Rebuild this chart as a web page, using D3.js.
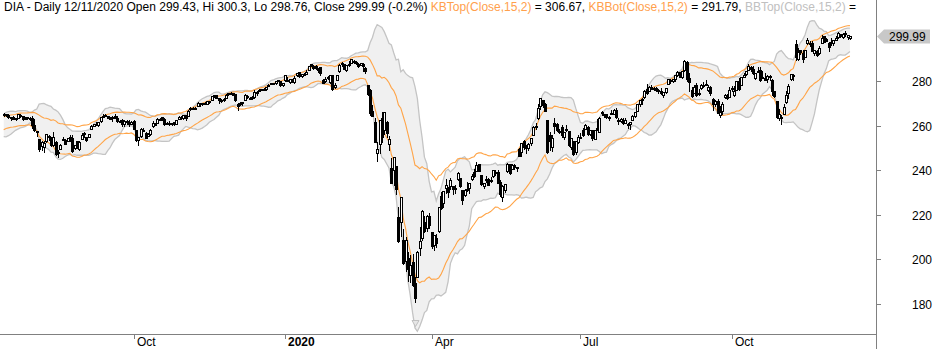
<!DOCTYPE html>
<html><head><meta charset="utf-8">
<script src="https://cdn.jsdelivr.net/npm/d3@7"></script>
<style>
body{margin:0;background:#fff}
svg{display:block}
text{font-family:"Liberation Sans",Arial,sans-serif;font-size:12px}
</style>
</head><body>
<svg id="chart" width="936" height="349"></svg>
<script>
// ---------------- DATA (DIA daily, adjusted) ----------------
const dates = [
"2019-06-24","2019-06-25","2019-06-26","2019-06-27","2019-06-28","2019-07-01","2019-07-02","2019-07-03","2019-07-05","2019-07-08","2019-07-09","2019-07-10","2019-07-11","2019-07-12",
"2019-07-15","2019-07-16","2019-07-17","2019-07-18","2019-07-19","2019-07-22","2019-07-23","2019-07-24","2019-07-25","2019-07-26","2019-07-29","2019-07-30","2019-07-31",
"2019-08-01","2019-08-02","2019-08-05","2019-08-06","2019-08-07","2019-08-08","2019-08-09","2019-08-12","2019-08-13","2019-08-14","2019-08-15","2019-08-16","2019-08-19","2019-08-20","2019-08-21","2019-08-22","2019-08-23","2019-08-26","2019-08-27","2019-08-28","2019-08-29","2019-08-30",
"2019-09-03","2019-09-04","2019-09-05","2019-09-06","2019-09-09","2019-09-10","2019-09-11","2019-09-12","2019-09-13","2019-09-16","2019-09-17","2019-09-18","2019-09-19","2019-09-20","2019-09-23","2019-09-24","2019-09-25","2019-09-26","2019-09-27","2019-09-30",
"2019-10-01","2019-10-02","2019-10-03","2019-10-04","2019-10-07","2019-10-08","2019-10-09","2019-10-10","2019-10-11","2019-10-14","2019-10-15","2019-10-16","2019-10-17","2019-10-18","2019-10-21","2019-10-22","2019-10-23","2019-10-24","2019-10-25","2019-10-28","2019-10-29","2019-10-30","2019-10-31",
"2019-11-01","2019-11-04","2019-11-05","2019-11-06","2019-11-07","2019-11-08","2019-11-11","2019-11-12","2019-11-13","2019-11-14","2019-11-15","2019-11-18","2019-11-19","2019-11-20","2019-11-21","2019-11-22","2019-11-25","2019-11-26","2019-11-27","2019-11-29",
"2019-12-02","2019-12-03","2019-12-04","2019-12-05","2019-12-06","2019-12-09","2019-12-10","2019-12-11","2019-12-12","2019-12-13","2019-12-16","2019-12-17","2019-12-18","2019-12-19","2019-12-20","2019-12-23","2019-12-24","2019-12-26","2019-12-27","2019-12-30","2019-12-31",
"2020-01-02","2020-01-03","2020-01-06","2020-01-07","2020-01-08","2020-01-09","2020-01-10","2020-01-13","2020-01-14","2020-01-15","2020-01-16","2020-01-17","2020-01-21","2020-01-22","2020-01-23","2020-01-24","2020-01-27","2020-01-28","2020-01-29","2020-01-30","2020-01-31",
"2020-02-03","2020-02-04","2020-02-05","2020-02-06","2020-02-07","2020-02-10","2020-02-11","2020-02-12","2020-02-13","2020-02-14","2020-02-18","2020-02-19","2020-02-20","2020-02-21","2020-02-24","2020-02-25","2020-02-26","2020-02-27","2020-02-28",
"2020-03-02","2020-03-03","2020-03-04","2020-03-05","2020-03-06","2020-03-09","2020-03-10","2020-03-11","2020-03-12","2020-03-13","2020-03-16","2020-03-17","2020-03-18","2020-03-19","2020-03-20","2020-03-23","2020-03-24","2020-03-25","2020-03-26","2020-03-27","2020-03-30","2020-03-31",
"2020-04-01","2020-04-02","2020-04-03","2020-04-06","2020-04-07","2020-04-08","2020-04-09","2020-04-13","2020-04-14","2020-04-15","2020-04-16","2020-04-17","2020-04-20","2020-04-21","2020-04-22","2020-04-23","2020-04-24","2020-04-27","2020-04-28","2020-04-29","2020-04-30",
"2020-05-01","2020-05-04","2020-05-05","2020-05-06","2020-05-07","2020-05-08","2020-05-11","2020-05-12","2020-05-13","2020-05-14","2020-05-15","2020-05-18","2020-05-19","2020-05-20","2020-05-21","2020-05-22","2020-05-26","2020-05-27","2020-05-28","2020-05-29",
"2020-06-01","2020-06-02","2020-06-03","2020-06-04","2020-06-05","2020-06-08","2020-06-09","2020-06-10","2020-06-11","2020-06-12","2020-06-15","2020-06-16","2020-06-17","2020-06-18","2020-06-19","2020-06-22","2020-06-23","2020-06-24","2020-06-25","2020-06-26","2020-06-29","2020-06-30",
"2020-07-01","2020-07-02","2020-07-06","2020-07-07","2020-07-08","2020-07-09","2020-07-10","2020-07-13","2020-07-14","2020-07-15","2020-07-16","2020-07-17","2020-07-20","2020-07-21","2020-07-22","2020-07-23","2020-07-24","2020-07-27","2020-07-28","2020-07-29","2020-07-30","2020-07-31",
"2020-08-03","2020-08-04","2020-08-05","2020-08-06","2020-08-07","2020-08-10","2020-08-11","2020-08-12","2020-08-13","2020-08-14","2020-08-17","2020-08-18","2020-08-19","2020-08-20","2020-08-21","2020-08-24","2020-08-25","2020-08-26","2020-08-27","2020-08-28","2020-08-31",
"2020-09-01","2020-09-02","2020-09-03","2020-09-04","2020-09-08","2020-09-09","2020-09-10","2020-09-11","2020-09-14","2020-09-15","2020-09-16","2020-09-17","2020-09-18","2020-09-21","2020-09-22","2020-09-23","2020-09-24","2020-09-25","2020-09-28","2020-09-29","2020-09-30",
"2020-10-01","2020-10-02","2020-10-05","2020-10-06","2020-10-07","2020-10-08","2020-10-09","2020-10-12","2020-10-13","2020-10-14","2020-10-15","2020-10-16","2020-10-19","2020-10-20","2020-10-21","2020-10-22","2020-10-23","2020-10-26","2020-10-27","2020-10-28","2020-10-29","2020-10-30",
"2020-11-02","2020-11-03","2020-11-04","2020-11-05","2020-11-06","2020-11-09","2020-11-10","2020-11-11","2020-11-12","2020-11-13","2020-11-16","2020-11-17","2020-11-18","2020-11-19","2020-11-20","2020-11-23","2020-11-24","2020-11-25","2020-11-27","2020-11-30",
"2020-12-01","2020-12-02","2020-12-03","2020-12-04","2020-12-07","2020-12-08","2020-12-09","2020-12-10","2020-12-11"
];
const open = [
259.3,259.0,257.6,257.3,257.4,259.9,259.0,260.0,260.6,260.3,259.0,260.1,260.9,262.9,
264.9,265.0,264.9,263.4,264.0,263.0,263.6,264.7,264.3,263.1,263.4,262.9,263.6,
260.3,257.5,254.0,251.0,250.6,253.3,255.4,254.6,251.3,252.6,247.5,249.6,254.2,253.4,253.3,254.5,254.6,250.1,252.9,249.6,254.2,256.5,
254.9,255.0,258.6,259.9,260.7,260.4,261.9,264.5,264.6,264.2,263.2,263.4,264.1,263.6,261.6,262.6,260.6,262.2,261.7,260.9,
262.0,257.9,253.6,255.2,258.2,256.8,255.5,256.4,259.7,260.7,261.2,263.0,263.7,263.0,261.0,261.3,260.6,261.5,260.9,263.0,263.7,263.6,264.7,
264.2,267.4,268.0,267.9,268.7,269.7,269.6,270.2,269.8,270.9,271.7,273.3,273.8,272.3,271.6,271.4,272.6,274.0,274.7,274.4,
274.1,269.9,269.7,270.2,271.7,273.4,272.6,272.6,272.8,275.2,275.9,276.2,276.5,276.2,278.0,278.8,279.0,278.9,280.3,280.0,278.0,
280.3,280.5,279.5,280.6,279.5,282.6,283.9,282.4,282.8,283.3,285.0,287.2,286.6,286.6,285.3,286.1,280.6,279.9,281.7,279.6,282.5,
277.1,280.5,284.4,287.5,287.4,284.9,287.8,288.0,288.9,288.7,287.8,287.2,287.6,285.9,278.3,275.8,266.5,261.8,247.6,
251.6,263.6,258.0,261.8,251.6,241.0,240.3,241.7,219.0,216.8,208.7,199.2,200.7,193.2,198.7,189.6,192.2,205.0,209.8,216.7,214.2,219.3,
212.1,206.3,209.8,212.7,228.3,225.3,232.0,232.4,232.7,232.8,232.0,236.0,236.4,231.1,228.9,231.6,232.0,236.0,239.2,239.8,242.7,
237.7,232.9,236.0,236.0,235.0,237.2,239.0,239.3,234.5,228.0,231.3,239.6,242.6,240.6,242.3,240.9,249.7,248.0,252.9,250.0,
249.9,252.1,256.0,259.4,263.2,268.7,271.5,269.7,262.4,255.6,250.2,261.3,260.9,257.4,259.4,254.8,258.2,257.5,250.6,253.2,248.0,252.6,
255.0,257.9,258.6,259.4,256.4,258.0,254.1,258.9,257.1,266.0,265.2,265.2,263.8,265.4,265.4,267.1,262.6,262.1,262.6,261.2,260.9,260.9,
262.4,264.3,266.7,269.6,271.4,272.8,276.4,275.6,277.5,276.3,277.0,276.1,275.6,273.8,274.9,278.8,280.6,280.1,281.0,282.9,284.0,
281.6,285.0,288.7,281.3,276.0,274.6,278.2,274.4,276.8,278.2,278.6,276.0,277.2,272.0,269.9,271.2,264.7,266.4,272.7,273.8,273.0,
276.9,273.6,276.0,280.2,278.3,282.0,283.1,285.0,286.5,285.6,281.4,284.3,285.1,281.4,281.5,280.7,282.3,280.5,275.3,270.9,263.6,264.0,
265.4,270.4,274.5,281.0,282.7,296.8,289.7,293.8,292.7,290.8,297.2,297.1,297.0,292.5,293.4,292.5,297.1,300.0,299.0,297.2,
296.9,296.9,298.6,299.6,301.2,299.7,301.5,299.8,299.43
];
const high = [
259.6,259.2,258.2,257.8,258.0,260.2,259.7,261.4,261.0,260.4,259.7,261.1,262.7,265.0,
265.5,265.4,265.0,263.9,264.3,263.6,265.1,265.0,264.4,263.8,263.9,263.8,264.3,
262.9,257.8,254.2,252.9,252.9,256.2,255.6,254.8,257.3,252.9,248.9,251.8,254.9,253.8,254.5,255.6,255.6,251.4,253.0,252.9,256.5,257.0,
255.1,256.2,260.2,260.8,261.7,261.7,263.9,265.3,265.2,264.5,263.7,264.1,265.0,264.1,262.4,262.9,262.4,262.3,262.6,261.9,
262.5,258.0,255.0,258.7,259.1,257.3,256.9,258.5,262.2,261.0,263.6,263.2,263.9,263.2,261.5,261.9,261.3,261.6,262.7,264.1,264.1,264.9,264.8,
266.8,268.2,268.5,268.3,270.6,270.1,270.2,270.8,271.1,271.1,273.3,273.8,273.9,272.5,271.8,272.3,274.0,274.5,275.1,274.5,
274.2,270.1,270.4,270.6,274.1,273.7,273.0,273.1,275.8,275.6,276.6,276.6,276.7,277.4,278.5,279.2,279.1,279.8,280.6,280.1,279.1,
282.6,281.6,281.0,280.9,282.4,283.6,284.1,283.0,283.8,284.8,286.9,287.6,287.1,287.3,285.9,286.4,281.0,281.6,282.4,282.7,282.8,
279.3,282.8,287.4,288.3,287.5,287.2,289.1,290.0,289.6,289.0,288.1,288.2,288.0,286.1,278.4,276.2,269.2,263.6,252.7,
262.6,266.3,266.3,262.0,255.5,245.4,246.0,242.0,223.3,228.0,213.7,210.2,203.2,202.0,202.6,192.2,203.7,214.5,222.0,219.5,219.9,221.0,
212.3,211.1,211.3,223.5,230.1,230.8,235.9,232.5,236.5,233.0,233.2,239.3,236.6,231.3,231.7,234.8,234.2,238.2,240.6,243.9,243.0,
237.8,234.4,237.4,236.6,236.8,240.2,240.0,239.9,235.4,233.2,233.8,243.4,243.0,242.6,242.7,241.6,249.9,252.3,253.5,251.3,
252.0,254.3,259.9,261.1,269.8,272.4,271.6,270.2,262.7,257.0,255.9,263.4,261.0,258.6,260.4,257.3,260.1,257.8,254.4,253.3,253.0,256.0,
256.6,259.0,260.5,259.8,258.1,258.1,258.1,262.9,263.7,266.7,265.3,265.3,264.4,266.8,267.4,267.9,263.5,263.4,263.2,263.2,261.0,261.7,
264.9,266.1,269.9,271.6,272.4,275.8,278.6,277.7,278.4,277.1,277.2,276.2,276.9,275.1,276.9,280.9,280.7,281.0,282.9,284.3,284.1,
284.7,289.3,288.9,283.7,277.1,278.2,279.3,276.5,278.8,279.4,280.6,278.1,277.9,272.2,271.3,271.8,268.7,270.5,274.3,274.1,277.3,
277.6,277.9,280.1,281.5,281.7,283.4,284.5,287.8,286.7,286.8,283.7,286.4,286.5,284.3,283.4,282.5,282.6,280.7,275.5,271.1,267.6,264.6,
269.8,275.4,278.8,283.3,283.1,298.5,294.8,294.0,293.8,294.1,299.4,298.0,297.8,294.0,294.0,295.5,300.8,300.1,299.3,297.5,
299.3,298.4,300.0,301.8,301.3,301.4,302.3,300.8,300.3
];
const low = [
258.6,256.9,256.8,256.8,257.0,258.3,258.6,259.9,259.2,259.4,258.6,259.9,260.7,262.8,
264.5,264.5,263.6,262.6,262.9,262.5,263.3,263.8,262.6,262.8,263.1,262.5,258.9,
257.6,255.4,248.8,249.2,248.3,252.6,253.6,250.8,251.0,246.9,245.8,249.5,253.5,251.7,253.0,253.0,248.2,249.6,249.8,249.2,254.0,255.0,
253.0,254.9,258.5,259.6,260.3,259.6,261.7,263.9,264.4,263.2,262.8,262.0,263.4,261.7,261.4,259.9,259.8,260.8,259.9,260.9,
258.5,253.2,251.3,255.0,257.4,254.4,255.2,255.6,259.4,260.1,261.0,262.4,262.4,260.2,260.7,260.4,260.1,260.4,260.6,262.8,263.1,262.8,262.6,
264.1,267.1,267.4,267.5,268.6,269.0,269.3,269.6,269.6,270.2,271.6,272.8,272.4,270.3,270.5,270.9,272.5,273.7,274.3,273.5,
270.9,266.9,269.3,269.1,271.6,272.6,271.8,272.1,272.4,273.9,275.7,275.8,275.9,276.0,277.6,278.5,278.5,278.8,279.8,277.9,277.8,
279.9,279.8,279.2,279.5,279.3,282.2,281.9,282.0,282.6,283.0,284.8,286.8,285.4,285.6,283.9,282.8,279.0,279.7,280.9,278.9,275.9,
276.8,280.3,284.2,286.8,285.2,284.6,286.9,287.9,288.1,287.7,286.3,287.0,284.5,283.4,273.7,264.9,264.1,252.6,244.3,
247.5,252.8,256.4,255.0,249.0,234.3,233.3,229.5,208.0,210.4,198.1,194.7,190.2,189.9,188.1,181.0,192.2,202.0,208.5,212.2,212.9,214.0,
205.0,204.2,205.5,212.3,222.7,223.6,230.0,228.0,231.7,229.3,229.6,235.7,232.5,224.9,228.5,230.8,229.9,235.4,236.8,239.7,239.5,
233.2,231.9,234.8,233.2,234.6,237.1,238.0,234.3,228.6,226.3,230.4,239.4,238.5,240.5,240.5,239.8,246.2,246.3,249.6,247.8,
249.0,251.4,255.8,258.4,262.9,267.6,268.3,266.4,247.9,249.2,248.7,256.8,257.6,256.7,254.7,254.0,257.7,250.8,249.7,246.9,247.2,252.0,
254.4,255.2,258.3,256.0,255.6,253.4,253.8,258.0,257.0,264.6,263.7,263.6,262.7,265.0,265.0,263.2,260.7,261.6,260.9,261.0,258.9,258.4,
262.3,264.0,266.6,268.8,269.6,272.3,274.3,275.3,276.3,275.8,275.7,274.6,274.3,273.0,274.5,278.6,279.2,279.5,280.2,282.3,281.6,
281.2,284.6,279.8,275.5,272.7,274.4,273.3,273.8,276.6,277.4,278.2,275.4,273.9,266.8,268.6,265.6,263.9,265.0,272.2,271.8,272.9,
275.4,273.3,275.8,275.8,278.2,281.9,282.6,284.8,284.7,283.3,280.9,284.2,280.2,281.2,280.5,279.5,280.4,273.9,272.7,263.5,262.5,260.5,
265.0,270.2,272.6,280.6,280.4,289.6,289.4,291.9,288.5,290.7,296.6,295.5,293.3,291.5,291.3,292.2,297.0,297.3,297.8,293.5,
296.3,296.2,298.3,299.4,299.7,299.4,300.0,298.9,298.76
];
const close = [
258.9,257.2,257.1,257.0,257.7,258.9,259.6,261.3,260.9,259.8,259.5,260.3,262.6,265.0,
265.1,264.9,263.7,263.7,263.0,263.2,265.0,264.2,262.9,263.4,263.7,263.5,260.1,
258.1,257.2,249.5,252.6,252.4,256.1,255.2,251.3,255.1,247.1,248.1,251.2,253.7,251.9,254.3,254.8,248.6,251.3,250.1,252.7,255.9,256.3,
253.7,256.1,259.8,260.5,260.9,261.6,263.9,264.3,264.7,263.3,263.6,264.0,263.4,261.9,262.0,260.6,262.2,261.4,260.7,261.7,
258.6,253.7,254.9,258.6,257.7,254.5,256.4,257.9,261.1,260.8,263.1,262.9,263.2,260.6,261.2,260.8,261.2,261.0,262.5,263.8,263.6,264.8,263.4,
266.7,267.8,268.1,268.1,270.0,270.0,270.1,270.1,271.0,271.0,273.3,273.6,272.5,271.4,270.9,272.0,273.9,274.4,274.8,273.7,
271.4,268.6,270.1,270.4,273.8,272.7,272.4,272.7,274.9,275.0,276.0,276.3,276.0,277.4,278.2,279.1,278.8,279.8,280.1,278.2,279.0,
282.6,280.2,280.9,279.7,281.4,283.5,282.1,283.0,283.3,284.2,286.9,287.4,285.9,285.8,285.5,283.8,279.3,281.1,281.2,282.5,276.5,
278.4,282.5,287.3,288.2,285.4,287.2,287.2,289.9,288.6,288.4,286.7,287.9,286.6,284.4,274.3,265.7,264.5,252.8,249.3,
262.4,254.7,266.2,256.7,254.2,234.4,245.9,231.4,208.3,227.9,198.4,208.7,195.6,197.4,188.4,182.7,203.4,208.3,221.6,212.7,219.4,215.4,
206.1,210.8,207.2,223.3,223.0,230.6,233.5,230.2,235.8,231.4,231.7,238.6,232.8,226.6,231.1,231.5,234.1,237.6,237.3,242.5,239.7,
233.9,234.2,235.5,233.4,235.5,239.9,238.8,234.4,229.3,233.0,233.6,242.6,238.7,242.4,241.4,241.3,246.5,252.0,250.5,250.3,
251.7,254.3,259.5,259.6,267.8,272.4,269.4,266.6,248.3,253.0,254.5,259.7,258.0,257.6,255.6,257.1,258.4,251.4,254.3,247.2,252.9,255.0,
254.6,255.6,260.2,256.2,258.0,254.4,258.0,258.2,263.6,265.9,264.6,263.9,264.0,265.6,267.2,263.7,261.9,263.1,261.0,262.6,260.4,261.5,
264.4,266.0,269.7,271.5,272.0,275.5,274.5,277.4,276.6,276.9,276.0,275.4,274.5,275.0,276.9,280.7,280.1,280.9,282.5,284.1,281.9,
284.6,289.0,281.0,279.4,273.1,277.5,273.5,274.8,278.0,278.0,278.4,277.1,274.7,269.6,271.0,265.8,266.3,269.9,273.9,272.6,275.9,
276.7,275.3,280.0,276.3,281.6,282.8,284.4,286.9,285.3,283.7,283.5,284.6,280.5,281.6,280.6,282.2,281.9,275.4,273.2,263.8,265.2,263.6,
268.4,273.9,277.6,283.0,282.3,290.6,293.2,293.0,289.8,293.8,298.5,296.8,293.4,293.8,291.7,294.9,299.5,297.7,298.1,295.4,
297.7,298.3,299.2,301.7,300.2,301.2,300.9,300.6,299.99
];
const firstShown = "2019-07-15";
const tickDates  = ["2019-10-01","2020-01-02","2020-04-01","2020-07-01","2020-10-01"];
const tickLabels = ["Oct","2020","Apr","Jul","Oct"];
const yTicks = [180,200,220,240,260,280];
const kbTopLast = 306.67, kbBotLast = 291.79;
const period = 15, mult = 2;

// ---------------- checks ----------------
[open,high,low,close].forEach((a,k)=>{ if(a.length!==dates.length) throw new Error("length mismatch array "+k+": "+a.length+" vs "+dates.length); });

// ---------------- indicators ----------------
const n = close.length;
const bbMid=[], bbUp=[], bbLo=[], kbUp=[], kbLo=[];
let ema = close[0], atr = high[0]-low[0];
const alpha = 2/(period+1);
for(let i=0;i<n;i++){
  const w = close.slice(Math.max(0,i-period+1), i+1);
  const m = d3.mean(w);
  const sd = Math.sqrt(d3.mean(w, v=>(v-m)*(v-m)));
  bbMid.push(m); bbUp.push(m+mult*sd); bbLo.push(m-mult*sd);
  if(i>0){
    ema = alpha*close[i] + (1-alpha)*ema;
    const pc = close[i-1];
    const tr = Math.max(high[i]-low[i], Math.abs(high[i]-pc), Math.abs(low[i]-pc));
    atr = (atr*(period-1)+tr)/period;
  }
  kbUp.push(ema+mult*atr); kbLo.push(ema-mult*atr);
}

// ---------------- layout ----------------
const svg = d3.select("#chart");
const plotRight = 876, axisY = 334;
const i0 = dates.indexOf(firstShown), iN = n-1;
const x = d3.scaleLinear().domain([i0, iN]).range([3.7, 849.9]);
const y = d3.scaleLinear().domain([180, 280]).range([304, 81]);
const idx = d3.range(i0, n);

svg.append("defs").append("clipPath").attr("id","plotclip")
  .append("rect").attr("x",0).attr("y",0).attr("width",plotRight).attr("height",axisY);
const plot = svg.append("g").attr("clip-path","url(#plotclip)");

// Bollinger band fill
plot.append("path").datum(idx)
  .attr("d", d3.area().x(i=>x(i)).y0(i=>y(bbLo[i])).y1(i=>y(bbUp[i])))
  .attr("fill","#f0f0f0");
[bbUp,bbLo].forEach(arr=>{
  plot.append("path").datum(idx)
    .attr("d", d3.line().x(i=>x(i)).y(i=>y(arr[i])))
    .attr("fill","none").attr("stroke","#c4c4c4").attr("stroke-width",1.3);
});
[kbUp,kbLo].forEach(arr=>{
  plot.append("path").datum(idx)
    .attr("d", d3.line().x(i=>x(i)).y(i=>y(arr[i])))
    .attr("fill","none").attr("stroke","#ffa447").attr("stroke-width",1.1);
});

// candles
const cg = plot.append("g").attr("shape-rendering","crispEdges");
idx.forEach(i=>{
  const cx = Math.round(x(i));
  cg.append("line").attr("x1",cx+0.5).attr("x2",cx+0.5)
    .attr("y1",Math.round(y(high[i]))).attr("y2",Math.round(y(low[i]))+1)
    .attr("stroke","#000");
  const top = Math.round(y(Math.max(open[i],close[i])));
  const bot = Math.round(y(Math.min(open[i],close[i])));
  const up = close[i] >= open[i];
  cg.append("rect").attr("x",cx-0.5).attr("y",top+0.5)
    .attr("width",2).attr("height",Math.max(bot-top,1))
    .attr("fill", up ? "#fff" : "#000").attr("stroke","#000");
});

// ---------------- axes ----------------
const axG = svg.append("g").attr("shape-rendering","crispEdges");
axG.append("line").attr("x1",0).attr("x2",plotRight).attr("y1",axisY+0.5).attr("y2",axisY+0.5).attr("stroke","#808080");
axG.append("line").attr("x1",plotRight+0.5).attr("x2",plotRight+0.5).attr("y1",0).attr("y2",349).attr("stroke","#808080");

yTicks.forEach(v=>{
  const yy = Math.round(y(v))+0.5;
  axG.append("line").attr("x1",plotRight+1).attr("x2",plotRight+5).attr("y1",yy).attr("y2",yy).attr("stroke","#808080");
  svg.append("text").attr("x",932).attr("y",yy+4.5).attr("text-anchor","end").attr("fill","#000").text(v);
});

tickDates.forEach((d,k)=>{
  const xx = Math.round(x(dates.indexOf(d)))+0.5;
  axG.append("line").attr("x1",xx).attr("x2",xx).attr("y1",axisY).attr("y2",axisY+5).attr("stroke","#808080");
  svg.append("text").attr("x",xx+2.5).attr("y",346).attr("fill","#000")
    .attr("font-weight", tickLabels[k]==="2020" ? "bold" : "normal").text(tickLabels[k]);
});

// marker triangle under the chart
const mk = Math.round(x(dates.indexOf("2020-03-23")))+0.5;
svg.append("path").attr("d",`M${mk-3.5},320.5 L${mk+3.5},320.5 L${mk},326.5 Z`)
  .attr("fill","#e6e6e6").attr("stroke","#c0c0c0");

// last price label
const lastC = close[iN];
const ly = y(lastC);
svg.append("path").attr("d",`M877,${ly} L884,${ly-7} L930,${ly-7} L930,${ly+7} L884,${ly+7} Z`)
  .attr("fill","#c8c8c8");
svg.append("text").attr("x",889).attr("y",ly+4.5).attr("fill","#000").text(lastC.toFixed(2));

// ---------------- title ----------------
const fmt = v => String(+v.toFixed(2));
const pct = (close[iN]/close[iN-1]-1)*100;
const dd = dates[iN].split("-");
const titleParts = [
  [`DIA - Daily ${dd[1]}/${dd[2]}/${dd[0]} Open ${fmt(open[iN])}, Hi ${fmt(high[iN])}, Lo ${fmt(low[iN])}, Close ${fmt(close[iN])} (${pct.toFixed(1)}%) `, "#000"],
  ["KBTop(Close,15,2)", "#ffa04c"],
  [` = ${kbTopLast.toFixed(2)}, `, "#000"],
  ["KBBot(Close,15,2)", "#ffa04c"],
  [` = ${kbBotLast.toFixed(2)}, `, "#000"],
  ["BBTop(Close,15,2)", "#c0c0c0"],
  [" =", "#000"]
];
const tt = svg.append("text").attr("x",4).attr("y",11).attr("xml:space","preserve").style("white-space","pre");
titleParts.forEach(p=>tt.append("tspan").attr("fill",p[1]).text(p[0]));
</script>
</body></html>
